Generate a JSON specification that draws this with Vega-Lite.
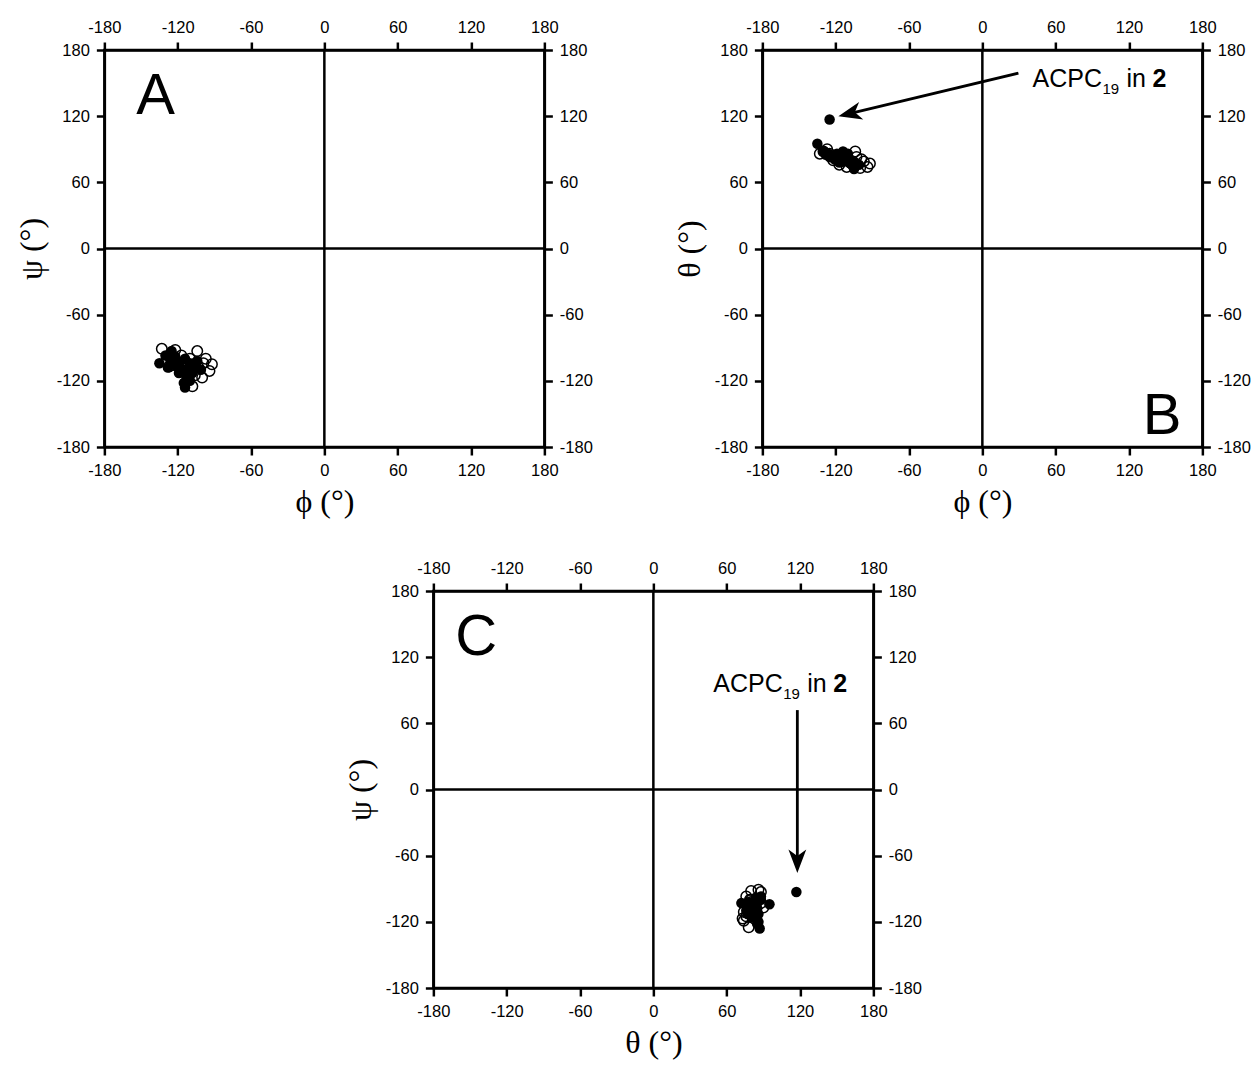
{
  "$schema": "https://vega.github.io/schema/vega-lite/v6.json",
  "background": "white",
  "padding": {"left": 14, "top": 17, "right": 0, "bottom": 0},
  "datasets": {
    "res": [
      {"phi": -133, "theta": 86, "psi": -91, "type": "open"},
      {"phi": -122, "theta": 80, "psi": -92, "type": "open"},
      {"phi": -104, "theta": 88, "psi": -93, "type": "open"},
      {"phi": -97, "theta": 79, "psi": -100, "type": "open"},
      {"phi": -92, "theta": 77, "psi": -105, "type": "open"},
      {"phi": -94, "theta": 74, "psi": -111, "type": "open"},
      {"phi": -100, "theta": 73, "psi": -117, "type": "open"},
      {"phi": -108, "theta": 78, "psi": -125, "type": "open"},
      {"phi": -127, "theta": 90, "psi": -107, "type": "open"},
      {"phi": -120, "theta": 84, "psi": -104, "type": "open"},
      {"phi": -113, "theta": 82, "psi": -112, "type": "open"},
      {"phi": -110, "theta": 80, "psi": -100, "type": "open"},
      {"phi": -117, "theta": 76, "psi": -97, "type": "open"},
      {"phi": -103, "theta": 83, "psi": -108, "type": "open"},
      {"phi": -125, "theta": 86, "psi": -100, "type": "open"},
      {"phi": -115, "theta": 79, "psi": -106, "type": "open"},
      {"phi": -106, "theta": 76, "psi": -115, "type": "open"},
      {"phi": -111, "theta": 74, "psi": -119, "type": "open"},
      {"phi": -130, "theta": 88, "psi": -103, "type": "open"},
      {"phi": -99, "theta": 81, "psi": -104, "type": "open"},
      {"phi": -135, "theta": 95, "psi": -104, "type": "filled"},
      {"phi": -130, "theta": 88, "psi": -97, "type": "filled"},
      {"phi": -126, "theta": 86, "psi": -101, "type": "filled"},
      {"phi": -122, "theta": 84, "psi": -98, "type": "filled"},
      {"phi": -118, "theta": 82, "psi": -103, "type": "filled"},
      {"phi": -114, "theta": 88, "psi": -100, "type": "filled"},
      {"phi": -110, "theta": 83, "psi": -104, "type": "filled"},
      {"phi": -107, "theta": 80, "psi": -108, "type": "filled"},
      {"phi": -112, "theta": 79, "psi": -109, "type": "filled"},
      {"phi": -117, "theta": 78, "psi": -110, "type": "filled"},
      {"phi": -121, "theta": 81, "psi": -107, "type": "filled"},
      {"phi": -125, "theta": 83, "psi": -105, "type": "filled"},
      {"phi": -104, "theta": 78, "psi": -102, "type": "filled"},
      {"phi": -101, "theta": 76, "psi": -110, "type": "filled"},
      {"phi": -108, "theta": 77, "psi": -113, "type": "filled"},
      {"phi": -113, "theta": 81, "psi": -116, "type": "filled"},
      {"phi": -115, "theta": 85, "psi": -122, "type": "filled"},
      {"phi": -114, "theta": 87, "psi": -126, "type": "filled"},
      {"phi": -110, "theta": 86, "psi": -120, "type": "filled"},
      {"phi": -119, "theta": 86, "psi": -113, "type": "filled"},
      {"phi": -128, "theta": 85, "psi": -108, "type": "filled"},
      {"phi": -105, "theta": 72, "psi": -103, "type": "filled"},
      {"phi": -125, "theta": 117, "psi": -93, "type": "filled"}
    ]
  },
  "config": {
    "view": {"stroke": "black", "strokeWidth": 2.5},
    "axis": {
      "grid": false,
      "domainColor": "black",
      "domainWidth": 2.5,
      "tickColor": "black",
      "tickWidth": 2.5,
      "tickSize": 8,
      "labelFont": "Liberation Sans",
      "labelFontSize": 16.5,
      "labelColor": "black",
      "labelPadding": 7,
      "labelFlush": false,
      "labelOverlap": false,
      "titleFont": "Liberation Serif",
      "titleFontSize": 32,
      "titleFontWeight": "normal",
      "titleColor": "black"
    }
  },
  "spacing": 39,
  "center": true,
  "vconcat": [
    {
      "spacing": 77,
      "hconcat": [
        {
          "width": 440,
          "height": 397,
          "resolve": {"axis": {"x": "independent", "y": "independent"}},
          "layer": [
            {
              "data": {"values": [{}]},
              "mark": {"type": "rule", "color": "black", "strokeWidth": 2.5},
              "encoding": {"x": {"datum": 0, "type": "quantitative", "scale": {"domain": [-180, 180], "nice": false, "zero": false}, "axis": null}}
            },
            {
              "data": {"values": [{}]},
              "mark": {"type": "rule", "color": "black", "strokeWidth": 2.5},
              "encoding": {"y": {"datum": 0, "type": "quantitative", "scale": {"domain": [-180, 180], "nice": false, "zero": false}, "axis": null}}
            },
            {
              "data": {"name": "res"},
              "transform": [{"filter": "datum.type === 'filled'"}],
              "mark": {"type": "point", "shape": "circle", "filled": true, "color": "black", "size": 110, "opacity": 1},
              "encoding": {
                "x": {"field": "phi", "type": "quantitative", "scale": {"domain": [-180, 180], "nice": false, "zero": false}, "axis": {"orient": "top", "title": null, "values": [-180, -120, -60, 0, 60, 120, 180], "labelExpr": "'' + datum.value"}},
                "y": {"field": "psi", "type": "quantitative", "scale": {"domain": [-180, 180], "nice": false, "zero": false}, "axis": {"orient": "right", "title": null, "values": [-180, -120, -60, 0, 60, 120, 180], "labelExpr": "'' + datum.value"}}
              }
            },
            {
              "data": {"name": "res"},
              "transform": [{"filter": "datum.type === 'open'"}],
              "mark": {"type": "point", "shape": "circle", "filled": false, "stroke": "black", "strokeWidth": 1.5, "size": 110, "opacity": 1},
              "encoding": {
                "x": {"field": "phi", "type": "quantitative", "scale": {"domain": [-180, 180], "nice": false, "zero": false}, "axis": {"orient": "bottom", "title": "ϕ (°)", "titlePadding": 8, "values": [-180, -120, -60, 0, 60, 120, 180], "labelExpr": "'' + datum.value"}},
                "y": {"field": "psi", "type": "quantitative", "scale": {"domain": [-180, 180], "nice": false, "zero": false}, "axis": {"orient": "left", "title": "ψ (°)", "titlePadding": 8, "values": [-180, -120, -60, 0, 60, 120, 180], "labelExpr": "'' + datum.value"}}
              }
            },
            {
              "data": {"values": [{"x": -138, "y": 122, "letter": "A"}]},
              "mark": {"type": "text", "font": "Liberation Sans", "fontSize": 58, "align": "center", "baseline": "alphabetic", "color": "black"},
              "encoding": {
                "x": {"field": "x", "type": "quantitative", "axis": null},
                "y": {"field": "y", "type": "quantitative", "axis": null},
                "text": {"field": "letter"}
              }
            }
          ]
        },
        {
          "width": 440,
          "height": 397,
          "resolve": {"axis": {"x": "independent", "y": "independent"}},
          "layer": [
            {
              "data": {"values": [{}]},
              "mark": {"type": "rule", "color": "black", "strokeWidth": 2.5},
              "encoding": {"x": {"datum": 0, "type": "quantitative", "scale": {"domain": [-180, 180], "nice": false, "zero": false}, "axis": null}}
            },
            {
              "data": {"values": [{}]},
              "mark": {"type": "rule", "color": "black", "strokeWidth": 2.5},
              "encoding": {"y": {"datum": 0, "type": "quantitative", "scale": {"domain": [-180, 180], "nice": false, "zero": false}, "axis": null}}
            },
            {
              "data": {"name": "res"},
              "transform": [{"filter": "datum.type === 'filled'"}],
              "mark": {"type": "point", "shape": "circle", "filled": true, "color": "black", "size": 110, "opacity": 1},
              "encoding": {
                "x": {"field": "phi", "type": "quantitative", "scale": {"domain": [-180, 180], "nice": false, "zero": false}, "axis": {"orient": "top", "title": null, "values": [-180, -120, -60, 0, 60, 120, 180], "labelExpr": "'' + datum.value"}},
                "y": {"field": "theta", "type": "quantitative", "scale": {"domain": [-180, 180], "nice": false, "zero": false}, "axis": {"orient": "right", "title": null, "values": [-180, -120, -60, 0, 60, 120, 180], "labelExpr": "'' + datum.value"}}
              }
            },
            {
              "data": {"name": "res"},
              "transform": [{"filter": "datum.type === 'open'"}],
              "mark": {"type": "point", "shape": "circle", "filled": false, "stroke": "black", "strokeWidth": 1.5, "size": 110, "opacity": 1},
              "encoding": {
                "x": {"field": "phi", "type": "quantitative", "scale": {"domain": [-180, 180], "nice": false, "zero": false}, "axis": {"orient": "bottom", "title": "ϕ (°)", "titlePadding": 8, "values": [-180, -120, -60, 0, 60, 120, 180], "labelExpr": "'' + datum.value"}},
                "y": {"field": "theta", "type": "quantitative", "scale": {"domain": [-180, 180], "nice": false, "zero": false}, "axis": {"orient": "left", "title": "θ (°)", "titlePadding": 8, "values": [-180, -120, -60, 0, 60, 120, 180], "labelExpr": "'' + datum.value"}}
              }
            },
            {
              "data": {"values": [{"x1": 29.5, "y1": 159, "x2": -113.8, "y2": 121}]},
              "mark": {"type": "rule", "color": "black", "strokeWidth": 2.8},
              "encoding": {
                "x": {"field": "x1", "type": "quantitative", "axis": null},
                "y": {"field": "y1", "type": "quantitative", "axis": null},
                "x2": {"field": "x2"},
                "y2": {"field": "y2"}
              }
            },
            {
              "data": {"values": [{"x": -117.8, "y": 120}]},
              "mark": {"type": "point", "shape": "M0,0 L-1,-0.38 L-0.72,0 L-1,0.38 Z", "filled": true, "color": "black", "size": 2200, "opacity": 1, "strokeWidth": 0, "angle": 166.6},
              "encoding": {
                "x": {"field": "x", "type": "quantitative", "axis": null},
                "y": {"field": "y", "type": "quantitative", "axis": null}
              }
            },
            {
              "data": {"values": [{"x": 41, "y": 146.5, "main": "ACPC", "sub": "19", "mid": "in", "bold": "2"}]},
              "encoding": {
                "x": {"field": "x", "type": "quantitative", "axis": null},
                "y": {"field": "y", "type": "quantitative", "axis": null}
              },
              "layer": [
                {"mark": {"type": "text", "font": "Liberation Sans", "fontSize": 25, "align": "left", "baseline": "alphabetic", "color": "black"}, "encoding": {"text": {"field": "main"}}},
                {"mark": {"type": "text", "font": "Liberation Sans", "fontSize": 15, "align": "left", "baseline": "alphabetic", "color": "black", "dx": 70, "dy": 7}, "encoding": {"text": {"field": "sub"}}},
                {"mark": {"type": "text", "font": "Liberation Sans", "fontSize": 25, "align": "left", "baseline": "alphabetic", "color": "black", "dx": 94}, "encoding": {"text": {"field": "mid"}}},
                {"mark": {"type": "text", "font": "Liberation Sans", "fontSize": 25, "fontWeight": "bold", "align": "left", "baseline": "alphabetic", "color": "black", "dx": 120}, "encoding": {"text": {"field": "bold"}}}
              ]
            },
            {
              "data": {"values": [{"x": 147, "y": -168, "letter": "B"}]},
              "mark": {"type": "text", "font": "Liberation Sans", "fontSize": 58, "align": "center", "baseline": "alphabetic", "color": "black"},
              "encoding": {
                "x": {"field": "x", "type": "quantitative", "axis": null},
                "y": {"field": "y", "type": "quantitative", "axis": null},
                "text": {"field": "letter"}
              }
            }
          ]
        }
      ]
    },
    {
      "width": 440,
      "height": 397,
      "resolve": {"axis": {"x": "independent", "y": "independent"}},
      "layer": [
        {
          "data": {"values": [{}]},
          "mark": {"type": "rule", "color": "black", "strokeWidth": 2.5},
          "encoding": {"x": {"datum": 0, "type": "quantitative", "scale": {"domain": [-180, 180], "nice": false, "zero": false}, "axis": null}}
        },
        {
          "data": {"values": [{}]},
          "mark": {"type": "rule", "color": "black", "strokeWidth": 2.5},
          "encoding": {"y": {"datum": 0, "type": "quantitative", "scale": {"domain": [-180, 180], "nice": false, "zero": false}, "axis": null}}
        },
        {
          "data": {"name": "res"},
          "transform": [{"filter": "datum.type === 'filled'"}],
          "mark": {"type": "point", "shape": "circle", "filled": true, "color": "black", "size": 110, "opacity": 1},
          "encoding": {
            "x": {"field": "theta", "type": "quantitative", "scale": {"domain": [-180, 180], "nice": false, "zero": false}, "axis": {"orient": "top", "title": null, "values": [-180, -120, -60, 0, 60, 120, 180], "labelExpr": "'' + datum.value"}},
            "y": {"field": "psi", "type": "quantitative", "scale": {"domain": [-180, 180], "nice": false, "zero": false}, "axis": {"orient": "right", "title": null, "values": [-180, -120, -60, 0, 60, 120, 180], "labelExpr": "'' + datum.value"}}
          }
        },
        {
          "data": {"name": "res"},
          "transform": [{"filter": "datum.type === 'open'"}],
          "mark": {"type": "point", "shape": "circle", "filled": false, "stroke": "black", "strokeWidth": 1.5, "size": 110, "opacity": 1},
          "encoding": {
            "x": {"field": "theta", "type": "quantitative", "scale": {"domain": [-180, 180], "nice": false, "zero": false}, "axis": {"orient": "bottom", "title": "θ (°)", "titlePadding": 8, "values": [-180, -120, -60, 0, 60, 120, 180], "labelExpr": "'' + datum.value"}},
            "y": {"field": "psi", "type": "quantitative", "scale": {"domain": [-180, 180], "nice": false, "zero": false}, "axis": {"orient": "left", "title": "ψ (°)", "titlePadding": 8, "values": [-180, -120, -60, 0, 60, 120, 180], "labelExpr": "'' + datum.value"}}
          }
        },
        {
          "data": {"values": [{"x1": 117.8, "y1": 72, "x2": 117.8, "y2": -71}]},
          "mark": {"type": "rule", "color": "black", "strokeWidth": 2.8},
          "encoding": {
            "x": {"field": "x1", "type": "quantitative", "axis": null},
            "y": {"field": "y1", "type": "quantitative", "axis": null},
            "x2": {"field": "x2"},
            "y2": {"field": "y2"}
          }
        },
        {
          "data": {"values": [{"x": 117.8, "y": -75.7}]},
          "mark": {"type": "point", "shape": "M0,0 L-1,-0.38 L-0.72,0 L-1,0.38 Z", "filled": true, "color": "black", "size": 2200, "opacity": 1, "strokeWidth": 0, "angle": 90},
          "encoding": {
            "x": {"field": "x", "type": "quantitative", "axis": null},
            "y": {"field": "y", "type": "quantitative", "axis": null}
          }
        },
        {
          "data": {"values": [{"x": 49, "y": 88.5, "main": "ACPC", "sub": "19", "mid": "in", "bold": "2"}]},
          "encoding": {
            "x": {"field": "x", "type": "quantitative", "axis": null},
            "y": {"field": "y", "type": "quantitative", "axis": null}
          },
          "layer": [
            {"mark": {"type": "text", "font": "Liberation Sans", "fontSize": 25, "align": "left", "baseline": "alphabetic", "color": "black"}, "encoding": {"text": {"field": "main"}}},
            {"mark": {"type": "text", "font": "Liberation Sans", "fontSize": 15, "align": "left", "baseline": "alphabetic", "color": "black", "dx": 70, "dy": 7}, "encoding": {"text": {"field": "sub"}}},
            {"mark": {"type": "text", "font": "Liberation Sans", "fontSize": 25, "align": "left", "baseline": "alphabetic", "color": "black", "dx": 94}, "encoding": {"text": {"field": "mid"}}},
            {"mark": {"type": "text", "font": "Liberation Sans", "fontSize": 25, "fontWeight": "bold", "align": "left", "baseline": "alphabetic", "color": "black", "dx": 120}, "encoding": {"text": {"field": "bold"}}}
          ]
        },
        {
          "data": {"values": [{"x": -145, "y": 122, "letter": "C"}]},
          "mark": {"type": "text", "font": "Liberation Sans", "fontSize": 58, "align": "center", "baseline": "alphabetic", "color": "black"},
          "encoding": {
            "x": {"field": "x", "type": "quantitative", "axis": null},
            "y": {"field": "y", "type": "quantitative", "axis": null},
            "text": {"field": "letter"}
          }
        }
      ]
    }
  ]
}
